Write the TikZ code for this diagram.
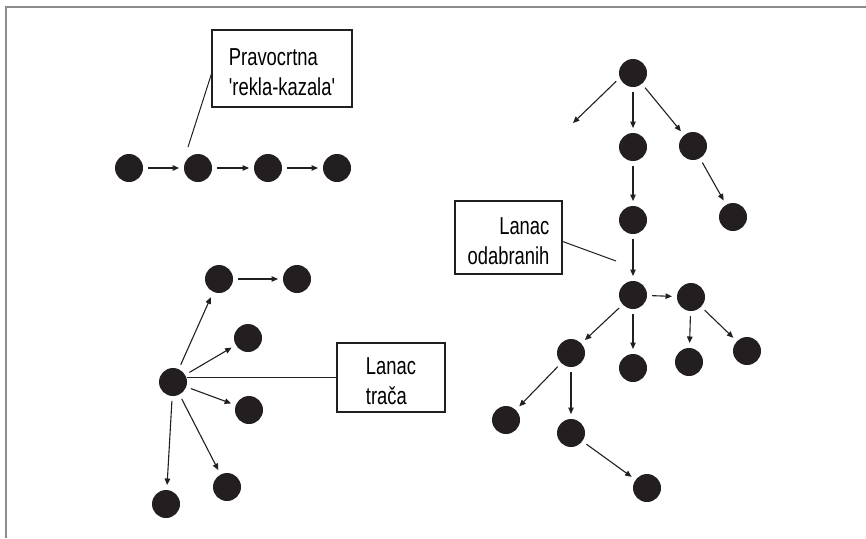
\documentclass[tikz,border=0pt]{standalone}
\usepackage{graphicx}
\usepackage{fontspec}
\setmainfont{Liberation Sans}
\usetikzlibrary{arrows.meta,calc}
\definecolor{ink}{HTML}{231F20}
\definecolor{framegray}{HTML}{8C8C8C}
% condensed lettering for the captions
\newcommand{\cond}[1]{\scalebox{0.75}[1]{#1}}
\begin{document}
\begin{tikzpicture}[x=1pt,y=-1pt,
  dot/.style={circle,fill=ink,draw=none,minimum size=28pt,inner sep=0pt,outer sep=0pt},
  arr/.style={draw=ink,line width=1.1pt,-{Triangle[length=6.5pt,width=5.5pt]},
              shorten <=5pt,shorten >=5pt},
  lead/.style={draw=ink,line width=1pt},
  tagbox/.style={draw=ink,line width=1.2pt,fill=white,inner sep=0pt,outer sep=0pt,
                 font=\fontsize{24.5}{30}\selectfont},
]
\useasboundingbox (0,0) rectangle (866,538);

% frame
\draw[framegray,line width=2pt] (866,6.5) -- (5.5,6.5) -- (5.5,538);

% straight chain
\node[dot] (c1) at (129,168) {};
\node[dot] (c2) at (198,168) {};
\node[dot] (c3) at (268,168) {};
\node[dot] (c4) at (337,168) {};
\draw[arr] (c1) -- (c2);
\draw[arr] (c2) -- (c3);
\draw[arr] (c3) -- (c4);

\node[tagbox,minimum width=140pt,minimum height=77pt,align=left] (prav) at (282,68.5)
  {\rule{0pt}{25pt}\cond{Pravocrtna}\\\cond{\textquotesingle rekla-kazala\textquotesingle}};
\coordinate (pravend) at (188,147);
\draw[lead] (prav.183) -- (pravend);

% tree of chosen ones
\node[dot] (root) at (633,73) {};
\node[dot] (t2) at (633,147) {};
\node[dot] (t3) at (693,146) {};
\node[dot] (t4) at (733,217) {};
\node[dot] (t5) at (633,220) {};
\node[dot] (ta) at (633,295) {};
\node[dot] (tb) at (691,297) {};
\node[dot] (tc) at (571,353) {};
\node[dot] (td) at (633,368) {};
\node[dot] (te) at (689,362) {};
\node[dot] (tf) at (747,351) {};
\node[dot] (tg) at (506,420) {};
\node[dot] (th) at (571,433) {};
\node[dot] (ti) at (647,488) {};
\coordinate (loose) at (573,123);

\draw[arr,shorten >=0pt] (root.200) -- (loose);
\draw[arr] (root) -- (t2);
\draw[arr] (root) -- (t3);
\draw[arr] (t3) -- (t4);
\draw[arr] (t2) -- (t5);
\draw[arr] (t5) -- (ta);
\draw[arr] (ta) -- (tb);
\draw[arr] (ta) -- (tc);
\draw[arr] (ta) -- (td);
\draw[arr] (tb) -- (te);
\draw[arr] (tb) -- (tf);
\draw[arr] (tc) -- (tg);
\draw[arr] (tc) -- (th);
\draw[arr] (th) -- (ti);

\node[tagbox,minimum width=107pt,minimum height=73pt,align=right] (odab) at (508.5,237.5)
  {\rule{0pt}{25pt}\cond{Lanac}\\\cond{odabranih}};
\coordinate (odabend) at (616,261);
\draw[lead] (odab.356) -- (odabend);

% gossip star
\node[dot] (hub) at (173,382) {};
\node[dot] (n1) at (219,279) {};
\node[dot] (n2) at (297,279) {};
\node[dot] (n3) at (248,338) {};
\node[dot] (n4) at (249,410) {};
\node[dot] (n5) at (227,487) {};
\node[dot] (n6) at (166,504) {};
\draw[arr,shorten >=6pt] (hub) -- (n1);
\draw[arr] (n1) -- (n2);
\draw[arr] (hub) -- (n3);
\draw[arr] (hub) -- (n4);
\draw[arr] (hub) -- (n5);
\draw[arr] (hub) -- (n6);

\node[tagbox,minimum width=108pt,minimum height=69pt,align=left] (trac) at (391,377.5)
  {\rule{0pt}{25pt}\cond{Lanac}\\\cond{trača}};
\draw[lead] (hub.east |- trac.west) -- (trac.west);

\end{tikzpicture}
\end{document}
